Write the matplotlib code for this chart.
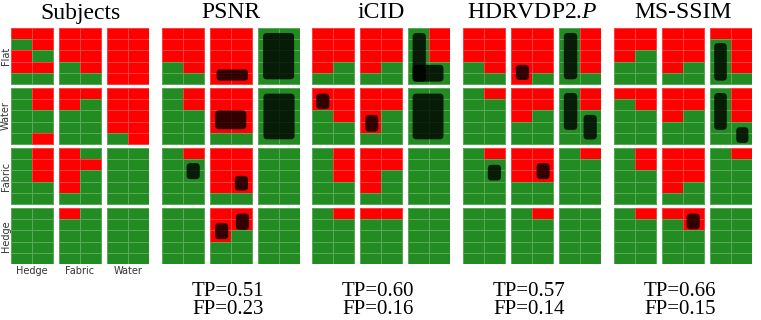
import matplotlib
matplotlib.use("Agg")
import matplotlib.pyplot as plt
from matplotlib.colors import ListedColormap
from matplotlib.patches import FancyBboxPatch
import numpy as np

plt.rcParams['mathtext.fontset'] = 'custom'
plt.rcParams['mathtext.it'] = 'Liberation Serif:italic'
plt.rcParams['mathtext.rm'] = 'Liberation Serif'

# panel titles and summary numbers
titles = ["Subjects", "PSNR", "iCID", "HDRVDP2.$P$", "MS-SSIM"]
tp = [None, 0.51, 0.60, 0.57, 0.66]
fp = [None, 0.23, 0.16, 0.14, 0.15]

row_names = ["Flat", "Water", "Fabric", "Hedge"]
col_names = ["Hedge", "Fabric", "Water"]

# each block: 5 rows x 2 cells, R = red, G = green (top row first)
subjects = [
    ["RR GR RG RR GG", "RR RR RR GR GG", "RR RR RR RR RR"],
    ["GR GR GG GG GR", "RR RG GG GG GG", "RR RR RR RR GR"],
    ["GR GR GR GG GG", "RG RR RG RG GG", "GG GG GG GG GG"],
    ["GG GG GG GG GG", "RG GG GG GG GG", "GG GG GG GG GG"],
]
psnr = [
    ["RR RR RR GR GG", "RR RR RR RR RR", "GG GG GG GG GG"],
    ["GR GR GG GG GG", "RR RR RR RR GG", "GG GG GG GG GG"],
    ["GR GG GG GG GG", "RR RR RR RR GG", "GG GG GG GG GG"],
    ["GG GG GG GG GG", "RR RR RG GG GG", "GG GG GG GG GG"],
]
icid = [
    ["RR RR RR RG GG", "RR RR RR RG GG", "GR GR GR GG GG"],
    ["RR RR GR GG GG", "RR RR RG RG GG", "GG GG GG GG GG"],
    ["GR GR GR GG GG", "RR RR RG RG GG", "GG GG GG GG GG"],
    ["GR GG GG GG GG", "RR GG GG GG GG", "GG GG GG GG GG"],
]
hdrvdp = [
    ["RR RR RR GR GG", "RR RR RR RR RG", "GR GR GR GR GG"],
    ["GR GG GG GG GG", "RR RR RG GG GG", "GR GR GG GG GG"],
    ["GR GG GG GG GG", "RR RR RR GG GG", "GR GG GG GG GG"],
    ["GG GG GG GG GG", "GR GG GG GG GG", "GG GG GG GG GG"],
]
msssim = [
    ["RR RR RG GG GG", "RR RR RR RG GG", "RR GR GR GR GG"],
    ["RR GR GG GG GG", "RR RR RG GG GG", "GR GR GR GG GG"],
    ["GR GR GG GG GG", "RR RR RR RG GG", "GR GG GG GG GG"],
    ["GR GG GG GG GG", "RR GR GG GG GG", "GG GG GG GG GG"],
]
panels = [subjects, psnr, icid, hdrvdp, msssim]

# dark marks: panel, block row, block col, x0, x1, y0, y1 (in cells)
marks = [
    (1, 0, 1, 0.31, 1.81, 3.70, 4.70),
    (1, 0, 2, 0.24, 1.72, 0.45, 4.58),
    (1, 1, 1, 0.24, 1.73, 2.00, 3.68),
    (1, 1, 2, 0.26, 1.74, 0.50, 4.58),
    (1, 2, 0, 1.17, 1.80, 1.35, 2.78),
    (1, 2, 1, 1.18, 1.81, 2.49, 3.80),
    (1, 3, 1, 0.24, 0.87, 1.35, 2.78),
    (1, 3, 1, 1.23, 1.86, 0.50, 1.95),
    (2, 0, 2, 0.22, 0.85, 0.45, 4.79),
    (2, 0, 2, 0.22, 1.69, 3.29, 4.79),
    (2, 1, 0, 0.20, 0.83, 0.50, 1.89),
    (2, 1, 1, 0.25, 0.87, 2.40, 3.90),
    (2, 1, 2, 0.22, 1.69, 0.50, 4.58),
    (3, 0, 1, 0.23, 0.86, 3.29, 4.64),
    (3, 0, 2, 0.23, 0.87, 0.45, 4.58),
    (3, 1, 2, 0.23, 0.87, 0.45, 3.74),
    (3, 1, 2, 1.17, 1.80, 2.40, 4.60),
    (3, 2, 0, 1.18, 1.81, 1.50, 2.90),
    (3, 2, 1, 1.22, 1.84, 1.35, 2.78),
    (4, 0, 2, 0.20, 0.80, 1.35, 4.70),
    (4, 1, 2, 0.20, 0.80, 0.45, 3.74),
    (4, 1, 2, 1.25, 1.83, 3.50, 4.90),
    (4, 3, 1, 1.17, 1.80, 0.50, 1.90),
]

W, H = 761, 320
fig = plt.figure(figsize=(W / 100, H / 100), dpi=100)

panel_left = [11, 162, 312, 463, 614]
panel_w = 138
top, panel_h = 28, 236
cell_w = (panel_w - 12) / 6
cell_h = (panel_h - 12) / 20
gx = 6 / cell_w
gy = 4 / cell_h

cmap = ListedColormap(["#228b22", "#ff0000"])
axes = []
for p, data in enumerate(panels):
    ax = fig.add_axes([panel_left[p] / W, 1 - (top + panel_h) / H, panel_w / W, panel_h / H])
    ax.set_xlim(0, 6 + 2 * gx)
    ax.set_ylim(20 + 3 * gy, 0)
    ax.axis("off")
    for i in range(4):
        for j in range(3):
            grid = np.array([[1 if c == "R" else 0 for c in r] for r in data[i][j].split()])
            bx = j * (2 + gx)
            by = i * (5 + gy)
            ax.pcolormesh(bx + np.arange(3), by + np.arange(6), grid, cmap=cmap,
                          vmin=0, vmax=1, edgecolors=(1, 1, 1, 0.25), linewidth=0.6)
    axes.append(ax)

for p, i, j, x0, x1, y0, y1 in marks:
    bx = j * (2 + gx)
    by = i * (5 + gy)
    axes[p].add_patch(FancyBboxPatch((bx + x0, by + y0), x1 - x0, y1 - y0,
                                     boxstyle="round,pad=0,rounding_size=0.18",
                                     mutation_aspect=cell_w / cell_h,
                                     fc="black", ec="none", alpha=0.8))

for p in range(5):
    cx = (panel_left[p] + panel_w / 2) / W
    fig.text(cx, 1 - 13 / H, titles[p], ha="center", va="center",
             fontsize=17, family="Liberation Serif")
    if tp[p] is not None:
        fig.text(cx - 3 / W, 1 - 292 / H, "TP=%.2f" % tp[p], ha="center", va="center",
                 fontsize=15, family="Liberation Serif")
        fig.text(cx - 3 / W, 1 - 310 / H, "FP=%.2f" % fp[p], ha="center", va="center",
                 fontsize=15, family="Liberation Serif")

for i, name in enumerate(row_names):
    cy = top + (i + 0.5) * (panel_h + 4) / 4 - 2
    fig.text(6 / W, 1 - cy / H, name, rotation=90, ha="center", va="center",
             fontsize=7, color="#333333")
for j, name in enumerate(col_names):
    cx = panel_left[0] + (j + 0.5) * (panel_w + 6) / 3 - 3
    fig.text(cx / W, 1 - 271 / H, name, ha="center", va="center",
             fontsize=7, color="#333333")

fig.savefig("out.png", dpi=100)
